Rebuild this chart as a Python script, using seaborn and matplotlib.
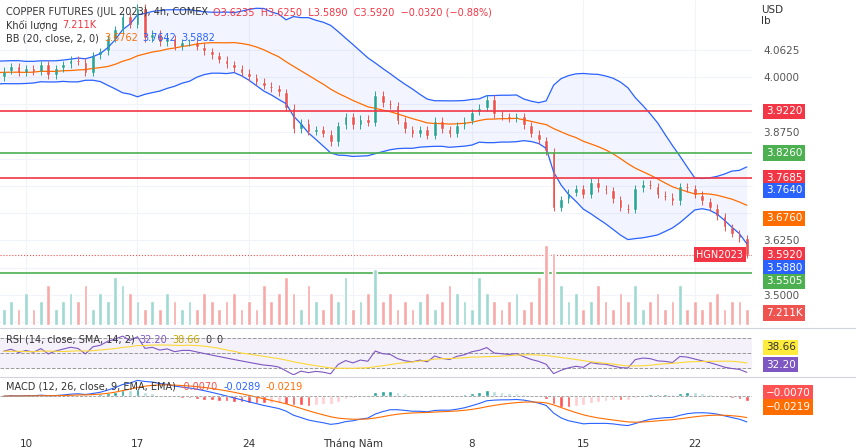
import numpy as np
import pandas as pd
import matplotlib.pyplot as plt
import seaborn as sns

# closes (first 20 bars are off-screen warm-up for indicators)
pre_close = [4.00, 4.02, 4.01, 4.03, 4.00, 3.99, 4.01, 4.02, 4.00, 4.03,
             4.01, 3.99, 4.00, 4.02, 4.04, 4.01, 4.00, 4.02, 4.01, 4.00]
close = [4.015, 4.025, 4.010, 4.020, 4.012, 4.030, 4.005, 4.020, 4.030, 4.040,
         4.035, 4.010, 4.050, 4.060, 4.090, 4.110, 4.140, 4.120, 4.160, 4.090,
         4.100, 4.080, 4.090, 4.070, 4.080, 4.080, 4.070, 4.060, 4.050, 4.040,
         4.030, 4.020, 4.010, 4.000, 3.990, 3.980, 3.975, 3.965, 3.930, 3.880,
         3.895, 3.875, 3.880, 3.870, 3.850, 3.890, 3.910, 3.890, 3.905, 3.895,
         3.960, 3.940, 3.935, 3.900, 3.880, 3.870, 3.880, 3.865, 3.900, 3.880,
         3.870, 3.890, 3.900, 3.920, 3.930, 3.950, 3.915, 3.910, 3.905, 3.910,
         3.890, 3.870, 3.855, 3.830, 3.700, 3.720, 3.735, 3.745, 3.730, 3.760,
         3.745, 3.740, 3.720, 3.700, 3.695, 3.745, 3.755, 3.750, 3.730, 3.725,
         3.715, 3.750, 3.745, 3.730, 3.715, 3.700, 3.680, 3.655, 3.640, 3.630,
         3.592]
volume = [2, 3, 2, 4, 2, 3, 5, 2, 3, 4, 3, 5, 2, 4, 3, 6, 5, 4, 3, 2,
          3, 2, 4, 3, 2, 3, 2, 4, 3, 2, 3, 4, 2, 3, 2, 5, 3, 4, 6, 4,
          2, 5, 3, 2, 4, 3, 6, 2, 3, 4, 7, 3, 4, 2, 3, 2, 3, 4, 2, 3,
          5, 4, 3, 2, 6, 4, 3, 2, 3, 4, 2, 3, 6, 10, 9, 5, 3, 4, 2, 3,
          5, 3, 2, 4, 3, 5, 2, 3, 4, 2, 3, 5, 2, 3, 2, 3, 4, 2, 3, 3, 2]
date_ticks = [3, 18, 33, 47, 63, 78, 93]
date_labels = ['10', '17', '24', 'Tháng Năm', '8', '15', '22']
levels = [(3.9220, '#f23645'), (3.8260, '#4caf50'), (3.7685, '#f23645'), (3.5505, '#4caf50')]
price_ticks = [4.0625, 4.0, 3.9375, 3.875, 3.8125, 3.75, 3.6875, 3.625, 3.5625, 3.5, 3.4375]
price_labels = ['4.0625', '4.0000', '', '3.8750', '', '', '', '3.6250', '', '3.5000', '']
# last values shown on the reference's labels
bb_vals = ['3.6762', '3.7642', '3.5882']
rsi_vals = ['32.20', '38.66']
macd_vals = ['-0.0070', '-0.0289', '-0.0219']

UP, DN = '#26a69a', '#ef5350'
sns.set_style('white')
plt.rcParams['font.family'] = ['DejaVu Sans']

allc = pd.Series(pre_close + close)
opens = allc.shift(1).fillna(allc.iloc[0])
basis = allc.rolling(20).mean()
sd = allc.rolling(20).std(ddof=0)
upper, lower = basis + 2 * sd, basis - 2 * sd
delta = allc.diff()
gain = delta.clip(lower=0).ewm(alpha=1 / 14).mean()
loss = (-delta.clip(upper=0)).ewm(alpha=1 / 14).mean()
rsi = 100 - 100 / (1 + gain / loss)
rsi_ma = rsi.rolling(14).mean()
macd = allc.ewm(span=12).mean() - allc.ewm(span=26).mean()
signal = macd.ewm(span=9).mean()
hst = macd - signal

n0 = len(pre_close)
idx = np.arange(len(allc)) - n0
df = pd.DataFrame({'i': idx, 'o': opens, 'c': allc, 'basis': basis, 'upper': upper,
                   'lower': lower, 'rsi': rsi, 'rsi_ma': rsi_ma, 'macd': macd,
                   'signal': signal, 'hst': hst})
vis = df[df.i >= 0].reset_index(drop=True)
vis['vol'] = volume
vis['up'] = vis.c >= vis.o

fig = plt.figure(figsize=(8.56, 4.48), dpi=100)
W = 752 / 856
ax = fig.add_axes([0, 0.2746, W, 0.7254])
ax_r = fig.add_axes([0, 0.163, W, 0.1])
ax_m = fig.add_axes([0, 0.045, W, 0.111])
xl = (-0.5, len(close) - 0.3)
renderer = fig.canvas.get_renderer()

def chain(a, y, parts, size=7):
    # draw text pieces one after another on a line
    x0 = a.transAxes.transform((0.008, 0))[0]
    yp = a.transAxes.transform((0, y))[1]
    for txt, col in parts:
        t = fig.text(x0 / fig.bbox.width, yp / fig.bbox.height, txt, fontsize=size,
                     color=col, va='top')
        x0 = t.get_window_extent(renderer).x1 + 5

# volume
axv = ax.twinx()
axv.bar(vis.i, vis.vol, width=0.5,
        color=np.where(vis.up, '#9fd9d3', '#f7a9a7'), zorder=0)
axv.set_ylim(0, 10 * 325 / 80)
axv.axis('off')

ax.fill_between(df.i, df.lower, df.upper, color='#2962ff', alpha=0.06, lw=0)
sns.lineplot(x=df.i, y=df.upper, ax=ax, color='#2962ff', lw=0.9)
sns.lineplot(x=df.i, y=df.lower, ax=ax, color='#2962ff', lw=0.9)
sns.lineplot(x=df.i, y=df.basis, ax=ax, color='#ff6d00', lw=0.9)
cols = np.where(vis.up, UP, DN)
ax.vlines(vis.i, np.minimum(vis.o, vis.c) - 0.008, np.maximum(vis.o, vis.c) + 0.008,
          color=cols, lw=0.7)
ax.bar(vis.i, (vis.c - vis.o).abs().clip(lower=0.002), bottom=np.minimum(vis.o, vis.c),
       width=0.5, color=cols)
for y, c in levels:
    ax.axhline(y, color=c, lw=1.2)
ax.axhline(close[-1], color=DN, lw=0.8, ls=':')
ax.set_xlim(xl)
ax.set_ylim(3.4306, 4.1774)
ax.set_yticks(price_ticks)
ax.set_yticklabels(price_labels)
ax.yaxis.tick_right()
ax.tick_params(axis='y', labelsize=7.5, colors='#555555', length=0, pad=8)
ax.set_xticks(date_ticks)
ax.set_xticklabels([])
ax.tick_params(axis='x', length=0)
ax.grid(True, color='#f0f3fa', lw=0.8)
ax.set_ylabel('')
ax.set_xlabel('')
for s in ax.spines.values():
    s.set_visible(False)
ax.text(1.012, 0.985, 'USD\nlb', transform=ax.transAxes, fontsize=7.5, color='#333', va='top')

def tag(a, y, txt, bg, fg='white'):
    a.annotate(txt, xy=(1.0, y), xycoords=('axes fraction', 'data'), xytext=(10, 0),
               textcoords='offset points', va='center', ha='left', fontsize=7.5, color=fg,
               annotation_clip=False, zorder=10,
               bbox=dict(boxstyle='square,pad=0.25', fc=bg, ec='none'))

tag(ax, 3.9220, '3.9220', '#f23645')
tag(ax, 3.8260, '3.8260', '#4caf50')
tag(ax, 3.7685, '3.7685', '#f23645')
tag(ax, 3.7400, '3.7640', '#2962ff')
tag(ax, 3.6760, '3.6760', '#ff6d00')
tag(ax, 3.5920, '3.5920', '#f23645')
tag(ax, 3.5615, '3.5880', '#2962ff')
tag(ax, 3.5310, '3.5505', '#4caf50')
tag(ax, 3.458, '7.211K', '#ef5350')
ax.annotate('HGN2023', xy=(1.0, 3.592), xycoords=('axes fraction', 'data'), xytext=(-40, 0),
            textcoords='offset points', va='center', fontsize=7, color='white',
            bbox=dict(boxstyle='square,pad=0.25', fc='#f23645', ec='none'))

chain(ax, 0.978, [('COPPER FUTURES (JUL 2023), 4h, COMEX', '#333'),
                  ('O3.6235  H3.6250  L3.5890  C3.5920  −0.0320 (−0.88%)', '#f23645')])
chain(ax, 0.938, [('Khối lượng', '#333'), ('7.211K', '#f23645')])
chain(ax, 0.898, [('BB (20, close, 2, 0)', '#333'), (bb_vals[0], '#ff6d00'),
                  (bb_vals[1], '#2962ff'), (bb_vals[2], '#2962ff')])

# RSI
ax_r.axhspan(30, 70, color='#7e57c2', alpha=0.08, lw=0)
for y in (70, 50, 30):
    ax_r.axhline(y, color='#999', lw=0.7, ls='--')
sns.lineplot(x=vis.i, y=vis.rsi, ax=ax_r, color='#7e57c2', lw=0.8)
sns.lineplot(x=vis.i, y=vis.rsi_ma, ax=ax_r, color='#fdd835', lw=0.8)
ax_r.set_xlim(xl)
ax_r.set_ylim(20, 80)
ax_r.set_yticks([])
ax_r.set_xticks([])
ax_r.set_xlabel('')
ax_r.set_ylabel('')
chain(ax_r, 0.9, [('RSI (14, close, SMA, 14, 2)', '#333'), (rsi_vals[0], '#7e57c2'),
                  (rsi_vals[1], '#c9a800'), ('0', '#333'), ('0', '#333')])
tag(ax_r, 57, rsi_vals[1], '#ffeb3b', '#333')
tag(ax_r, 34, rsi_vals[0], '#7e57c2')

# MACD
hd = vis.hst.diff()
ax_m.bar(vis.i, vis.hst, width=0.5,
         color=np.where(vis.hst >= 0, np.where(hd >= 0, '#26a69a', '#b2dfdb'),
                        np.where(hd <= 0, '#ff5252', '#ffcdd2')))
sns.lineplot(x=vis.i, y=vis.macd, ax=ax_m, color='#2962ff', lw=0.8)
sns.lineplot(x=vis.i, y=vis.signal, ax=ax_m, color='#ff6d00', lw=0.8)
ax_m.axhline(0, color='#999', lw=0.6, ls='--')
ax_m.set_xlim(xl)
ax_m.set_yticks([])
ax_m.set_xticks(date_ticks)
ax_m.set_xticklabels(date_labels, fontsize=7.5, color='#333')
ax_m.tick_params(axis='x', length=0, pad=8)
ax_m.set_xlabel('')
ax_m.set_ylabel('')
chain(ax_m, 0.93, [('MACD (12, 26, close, 9, EMA, EMA)', '#333'), (macd_vals[0], '#ef5350'),
                   (macd_vals[1], '#2962ff'), (macd_vals[2], '#ff6d00')])
ylo, yhi = ax_m.get_ylim()
tag(ax_m, yhi - (yhi - ylo) * 0.3, macd_vals[0].replace('-', '−'), '#ff5252')
tag(ax_m, yhi - (yhi - ylo) * 0.58, macd_vals[2].replace('-', '−'), '#ff6d00')

for a in (ax_r, ax_m):
    for s in a.spines.values():
        s.set_visible(False)
    a.grid(False)
for y in (0.268, 0.159):
    fig.add_artist(plt.Line2D([0, 1], [y, y], color='#d1d4dc', lw=0.8))

fig.savefig('out.png', dpi=100)
